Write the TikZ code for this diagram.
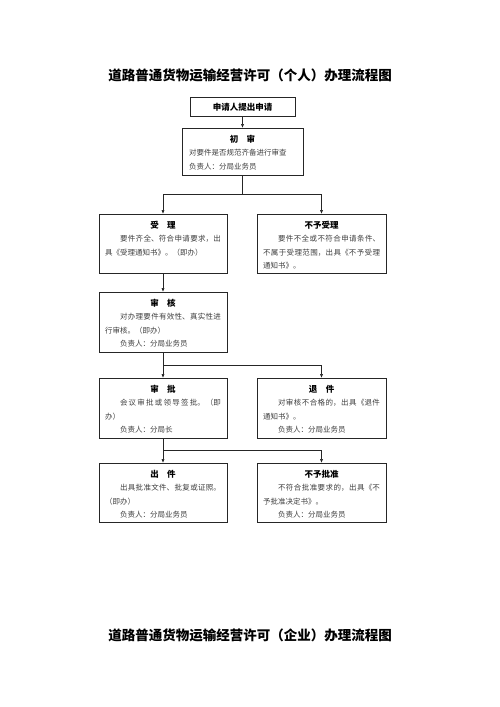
\documentclass[tikz,border=0pt]{standalone}
\usepackage{fontspec}
\usetikzlibrary{arrows.meta}
\newfontfamily\cjk{Noto Sans CJK SC}
\XeTeXlinebreaklocale "zh"
\XeTeXlinebreakskip = 0pt plus 2pt
\newcommand\stagehead[1]{{\centering\color{black}\bfseries\fontsize{8.5}{12}\selectfont #1\par}}
\newcommand\ind{\hspace*{2em}}

\begin{document}
\begin{tikzpicture}[x=1pt, y=-1pt,
	stage/.style={draw=black!85, line width=0.7pt, anchor=north, align=justify, inner xsep=6pt, inner ysep=0pt, text height=14pt, text=black!75, font=\cjk\fontsize{7.5}{13.5}\selectfont},
	heading/.style={font=\cjk\bfseries\fontsize{13.5}{16}\selectfont},
	link/.style={line width=0.7pt, draw=black!85},
	arrow/.style={link, -{Latex[length=4pt, width=3.2pt]}}]
		%%%%% START %%%%%
		
		\fill[white] (0, 0) rectangle (500, 707);
		\useasboundingbox (0, 0) rectangle (500, 707);
		
		\node[heading] (title) at (250, 75) {道路普通货物运输经营许可（个人）办理流程图};
		
		\node[draw=black!85, line width=0.7pt, anchor=north, minimum width=105pt, minimum height=19pt, inner sep=0pt, font=\cjk\bfseries\fontsize{8.5}{12}\selectfont] (apply) at (242.5, 97) {申请人提出申请};
		
		\node[stage, text width=107pt, inner xsep=7pt, text depth=33pt] (chushen) at (242.5, 128) {\stagehead{初\hspace{1em}审}对要件是否规范齐备进行审查\par 负责人：分局业务员};
		
		\node[stage, text width=116pt, text depth=45pt] (shouli) at (163, 214) {\stagehead{受\hspace{1em}理}\ind 要件齐全、符合申请要求，出\linebreak 具《受理通知书》。（即办）};
		\node[stage, text width=117pt, text depth=45pt] (buyushouli) at (321.5, 214) {\stagehead{不予受理}\ind 要件不全或不符合申请条件、\linebreak 不属于受理范围，出具《不予受理\linebreak 通知书》。};
		
		\node[stage, text width=116pt, text depth=46pt] (shenhe) at (163, 292) {\stagehead{审\hspace{1em}核}\ind 对办理要件有效性、真实性进\linebreak 行审核。（即办）\par\ind 负责人：分局业务员};
		
		\node[stage, text width=116pt, text depth=46pt] (shenpi) at (163, 378) {\stagehead{审\hspace{1em}批}\ind 会议审批或领导签批。（即\linebreak 办）\par\ind 负责人：分局长};
		\node[stage, text width=117pt, text depth=46pt] (tuijian) at (321.5, 378) {\stagehead{退\hspace{1em}件}\ind 对审核不合格的，出具《退件\linebreak 通知书》。\par\ind 负责人：分局业务员};
		
		\node[stage, text width=116pt, text depth=45pt] (chujian) at (163, 463) {\stagehead{出\hspace{1em}件}\ind 出具批准文件、批复或证照。\linebreak （即办）\par\ind 负责人：分局业务员};
		\node[stage, text width=117pt, text depth=45pt] (buyupizhun) at (321.5, 463) {\stagehead{不予批准}\ind 不符合批准要求的，出具《不\linebreak 予批准决定书》。\par\ind 负责人：分局业务员};
		
		% connectors
		\draw[arrow] (apply) -- (chushen);
		\draw[link] (chushen.south) -- ++(0, 19) coordinate (fork1);
		\draw[arrow] (fork1) -| (shouli.north);
		\draw[arrow] (fork1) -| (buyushouli.north);
		
		\draw[arrow] (shouli) -- (shenhe);
		\draw[link] (shenhe.south) -- ++(0, 13) coordinate (fork2);
		\draw[arrow] (fork2) -- (shenpi.north);
		\draw[arrow] (fork2) -| (tuijian.north);
		
		\draw[link] (shenpi.south) -- ++(0, 12) coordinate (fork3);
		\draw[arrow] (fork3) -- (chujian.north);
		\draw[arrow] (fork3) -| (buyupizhun.north);
		
		\node[heading] (title2) at (250, 635) {道路普通货物运输经营许可（企业）办理流程图};
		
		%%%%% END %%%%%
\end{tikzpicture}
\end{document}
